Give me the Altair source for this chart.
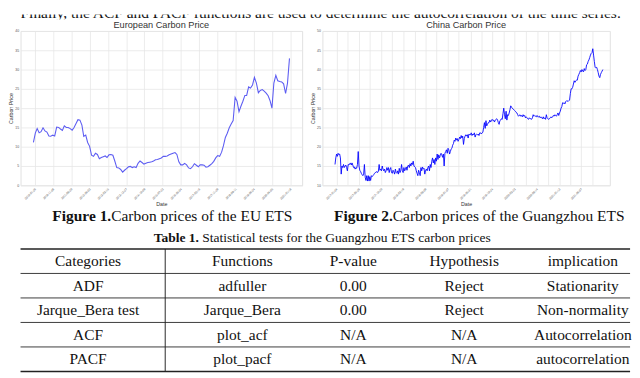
import json
import altair as alt
import pandas as pd

# ---------------- data ----------------
top_text = "Finally, the ACF and PACF functions are used to determine the autocorrelation of the time series."

eu_title = "European Carbon Price"
eu_start = "2010-01-01"
eu_price = [
    11.1, 13.6, 14.7, 13.6, 13.9, 14.9, 14.1, 13.8, 12.8, 12.7,
    13.0, 12.8, 15.1, 15.0, 14.6, 14.2, 15.4, 15.0, 15.0, 14.7,
    14.3, 15.0, 16.0, 17.0, 16.9, 15.6, 12.7, 13.0, 11.1, 10.1,
    7.8, 7.5, 8.3, 8.0, 6.9, 7.2, 7.4, 7.6, 7.2, 7.9,
    8.0, 7.8, 6.3, 4.6, 4.5, 4.1, 3.4, 3.9, 4.3, 4.8,
    4.9, 4.6, 4.8, 4.6, 5.7, 6.3, 5.9, 5.5, 5.7, 5.9,
    6.0, 6.1, 6.3, 6.6, 6.7, 6.9, 7.1, 7.5, 7.5, 7.6,
    7.9, 8.1, 8.3, 8.5, 8.0, 6.1, 5.3, 5.3, 5.7, 5.3,
    4.5, 4.3, 4.8, 5.6, 5.2, 4.8, 5.3, 5.3, 5.2, 4.7,
    4.8, 5.2, 5.6, 6.2, 7.1, 7.7, 7.5, 8.6, 10.2, 12.4,
    13.5, 14.9, 15.9, 16.8, 22.8, 21.8, 19.1, 20.5, 21.8, 23.3,
    23.3, 25.5, 25.2, 26.0, 28.0, 26.5, 24.0, 24.6, 24.8, 24.4,
    23.9, 23.2, 22.0, 20.0, 26.5, 28.5, 27.1, 26.9, 26.8, 26.3,
    23.8, 26.5, 32.9,
]
eu_tick_dates = [
    "2010-01-26", "2010-11-08", "2011-08-20", "2012-06-02", "2013-03-15",
    "2013-12-27", "2014-10-09", "2015-07-22", "2016-05-04", "2017-02-16",
    "2017-11-29", "2018-09-11", "2019-06-24", "2020-04-05", "2021-01-18",
]
eu_domain = ["2009-06-13", "2021-07-19"]

cn_title = "China Carbon Price"
cn_price = [
    15.4, 17.1, 18.1, 17.5, 18.3, 17.9, 18.1, 17.1, 12.9, 15.0,
    14.6, 15.4, 14.6, 15.0, 15.25, 14.6, 13.75, 15.4, 15.25, 15.6,
    15.8, 15.25, 15.8, 15.25, 14.6, 14.75, 14.2, 14.6, 14.4, 15.4,
    18.75, 15.0, 13.9, 13.6, 13.1, 12.75, 12.5, 12.9, 15.4, 12.1,
    11.25, 12.5, 11.1, 12.5, 11.1, 12.25, 11.25, 12.5, 12.25, 12.5,
    12.75, 13.1, 13.3, 13.3, 13.6, 13.3, 13.6, 15.4, 13.9, 14.2,
    13.75, 15.0, 14.2, 13.75, 14.2, 13.3, 13.75, 14.6, 13.9, 14.6,
    13.3, 14.2, 14.6, 13.3, 13.1, 13.9, 13.5, 12.9, 14.2, 13.3,
    13.1, 13.75, 12.9, 14.4, 13.3, 13.9, 15.4, 13.75, 13.3, 14.6,
    13.75, 14.2, 14.75, 13.9, 15.0, 15.25, 14.6, 15.6, 15.0, 15.8,
    15.4, 16.25, 15.0, 14.75, 14.6, 13.75, 13.1, 12.5, 13.9, 13.3,
    12.5, 14.6, 13.75, 14.75, 14.2, 14.4, 12.9, 13.9, 14.2, 13.75,
    14.6, 15.0, 13.75, 15.4, 14.6, 16.25, 17.1, 15.8, 16.7, 15.4,
    17.1, 16.25, 18.1, 16.7, 17.9, 17.1, 17.75, 18.3, 17.9, 17.25,
    18.1, 15.0, 18.3, 18.75, 19.2, 18.3, 19.6, 19.2, 18.1, 18.75,
    19.4, 19.6, 20.4, 20.8, 21.7, 21.4, 22.25, 21.7, 22.1, 21.4,
    21.9, 22.5, 22.1, 22.9, 22.25, 22.75, 20.6, 22.1, 22.75, 23.1,
    22.75, 23.1, 22.25, 23.3, 23.1, 23.1, 23.6, 22.9, 23.3, 23.1,
    23.6, 22.5, 23.1, 23.3, 23.1, 23.3, 22.9, 23.6, 23.6, 23.3,
    23.6, 23.75, 25.0, 26.25, 24.75, 26.75, 25.4, 25.8, 26.25, 26.25,
    26.9, 26.4, 26.75, 27.1, 26.75, 26.9, 26.4, 26.9, 27.1, 27.25,
    26.9, 26.25, 25.8, 26.75, 26.9, 27.25, 27.1, 28.6, 30.0, 28.3,
    27.25, 29.2, 26.9, 28.3, 28.1, 28.75, 29.6, 30.6, 30.25, 30.0,
    29.75, 29.6, 29.4, 29.2, 28.9, 28.75, 28.3, 27.9, 28.1, 28.3,
    27.9, 28.1, 27.75, 28.3, 27.9, 28.1, 27.5, 27.75, 27.5, 27.25,
    27.1, 27.5, 27.25, 27.25, 27.1, 27.5, 28.3, 27.9, 28.1, 27.9,
    27.75, 28.1, 27.75, 27.75, 27.9, 27.5, 27.75, 27.5, 27.25, 27.75,
    27.25, 27.5, 27.1, 28.3, 27.5, 27.25, 27.1, 27.25, 27.5, 27.75,
    27.5, 27.75, 28.1, 27.9, 28.3, 28.1, 27.9, 28.3, 28.75, 28.1,
    28.75, 29.2, 30.0, 30.4, 31.4, 31.25, 31.4, 31.1, 31.7, 31.9,
    31.9, 31.7, 31.9, 32.1, 33.75, 35.0, 35.0, 35.4, 36.25, 37.1,
    36.7, 37.1, 37.25, 37.25, 38.3, 38.75, 39.2, 39.75, 39.4, 40.0,
    39.6, 39.4, 40.25, 39.75, 40.0, 41.25, 41.4, 42.1, 42.5, 43.1,
    43.75, 44.2, 44.4, 45.4, 43.75, 42.1, 40.6, 40.4, 40.6, 40.0,
    39.2, 38.3, 37.9, 38.75, 39.2, 39.6, 40.0,
]
cn_tick_labels = [
    "2017-01-04", "2017-03-16", "2017-05-26", "2017-08-07", "2017-10-20",
    "2018-01-04", "2018-03-19", "2018-05-29", "2018-08-09", "2018-10-24",
    "2019-01-07", "2019-03-20", "2019-05-31", "2019-08-13", "2019-10-24",
    "2020-01-08", "2020-03-23", "2020-06-03", "2020-08-14", "2020-10-29",
    "2021-01-12", "2021-03-24", "2021-06-07", "2021-08-17",
]

caption_bold = ["Figure 1.", "Figure 2."]
caption_rest = ["Carbon prices of the EU ETS", "Carbon prices of the Guangzhou ETS"]
table_title_bold = "Table 1."
table_title_rest = "Statistical tests for the Guangzhou ETS carbon prices"
table_header = ["Categories", "Functions", "P-value", "Hypothesis", "implication"]
table_rows = [
    ["ADF", "adfuller", "0.00", "Reject", "Stationarity"],
    ["Jarque_Bera test", "Jarque_Bera", "0.00", "Reject", "Non-normality"],
    ["ACF", "plot_acf", "N/A", "N/A", "Autocorrelation"],
    ["PACF", "plot_pacf", "N/A", "N/A", "autocorrelation"],
]

# ---------------- layout / style ----------------
SANS = "Liberation Sans"
SERIF = "Liberation Serif"
TOTAL_W = 632
col_centers = [70, 230, 345, 460, 583]
divider_x = 150


def dt(s):
    y, m, d = (int(v) for v in s.split("-"))
    return alt.DateTime(year=y, month=m, date=d)


axis_style = dict(
    labelFont=SANS, labelColor="#555555",
    titleFont=SANS, titleFontSize=5.5, titleColor="#333333", titleFontWeight="normal",
    gridColor="#e6e6e6", gridWidth=0.8, domain=False, ticks=False,
    titlePadding=1.5,
)
x_axis_style = dict(labelFontSize=3, labelAngle=315, labelAlign="right",
                    labelBaseline="middle", labelPadding=3, **axis_style)
y_axis_style = dict(labelFontSize=3.6, labelPadding=2, **axis_style)
frame = alt.ViewBackground(stroke="#e0e0e0", strokeWidth=1, strokeOpacity=1)


def title(t):
    return alt.TitleParams(t, font=SANS, fontSize=9.5, fontWeight="normal",
                           color="#333333", offset=0, anchor="middle")


# strip of cut-off text at the very top (only its lower part is visible)
strip = alt.Chart(pd.DataFrame({"t": [top_text]})).mark_text(
    align="left", baseline="alphabetic", font=SERIF, fontSize=16, color="#111111", clip=True
).encode(x=alt.value(0), y=alt.value(3.5), text="t:N").properties(
    width=TOTAL_W, height=5, view=alt.ViewBackground(strokeOpacity=0)
)

# EU chart
eu_df = pd.DataFrame({
    "date": pd.date_range(eu_start, periods=len(eu_price), freq="MS"),
    "price": eu_price,
})
eu_chart = alt.Chart(eu_df).mark_line(color="#5c5cf2", strokeWidth=1.1).encode(
    x=alt.X("date:T", title="Date",
            scale=alt.Scale(domain=[dt(eu_domain[0]), dt(eu_domain[1])]),
            axis=alt.Axis(values=[dt(s) for s in eu_tick_dates], format="%Y-%m-%d",
                          **x_axis_style)),
    y=alt.Y("price:Q", title="Carbon Price",
            scale=alt.Scale(domain=[0, 40], nice=False),
            axis=alt.Axis(values=list(range(0, 41, 5)), **y_axis_style)),
).properties(width=292, height=160, title=title(eu_title), view=frame)

# China chart
cn_n = len(cn_price)
span = cn_n - 1
cn_df = pd.DataFrame({"i": list(range(cn_n)), "price": cn_price})
cn_ticks = [round(span * (0.006 + 0.04154 * k)) for k in range(len(cn_tick_labels))]
label_expr = f"{json.dumps(cn_tick_labels)}[indexof({json.dumps(cn_ticks)}, datum.value)]"
cn_chart = alt.Chart(cn_df).mark_line(color="#0000ff", strokeWidth=0.9).encode(
    x=alt.X("i:Q", title="Date",
            scale=alt.Scale(domain=[-0.047 * span, span * 1.026], nice=False, zero=False),
            axis=alt.Axis(values=cn_ticks, labelExpr=label_expr, **x_axis_style)),
    y=alt.Y("price:Q", title="Carbon Price",
            scale=alt.Scale(domain=[10, 50], nice=False, zero=False),
            axis=alt.Axis(values=list(range(10, 51, 5)), **y_axis_style)),
).properties(width=298, height=160, title=title(cn_title), view=frame)

top_row = alt.hconcat(eu_chart, cn_chart, spacing=7)

# captions + table
cells = []
for r, row in enumerate([table_header] + table_rows):
    for c, val in enumerate(row):
        cells.append({"row": r + 0.5, "col": c, "text": val})
cell_df = pd.DataFrame(cells)
line_df = pd.DataFrame({"row": [0, 1, 2, 3, 4, 5], "w": [1.6, 0.9, 0.9, 0.9, 0.9, 1.6]})

T0 = 43
yscale = alt.Scale(domain=[0, 5], range=[T0, T0 + 127], nice=False, zero=False)
BOTTOM_H = T0 + 128

layers = []
for c, cx in enumerate(col_centers):
    layers.append(
        alt.Chart(cell_df).transform_filter(alt.datum.col == c).mark_text(
            font=SERIF, fontSize=16, color="#111111", baseline="middle", align="center"
        ).encode(x=alt.value(cx), y=alt.Y("row:Q", scale=yscale, axis=None), text="text:N")
    )
layers.append(
    alt.Chart(line_df).mark_rule(color="#222222").encode(
        x=alt.value(0), x2=alt.value(TOTAL_W),
        y=alt.Y("row:Q", scale=yscale, axis=None),
        strokeWidth=alt.StrokeWidth("w:Q", scale=None),
    )
)
layers.append(
    alt.Chart(pd.DataFrame({"a": [0]})).mark_rule(color="#222222", strokeWidth=1).encode(
        x=alt.value(divider_x), y=alt.datum(0, scale=yscale), y2=alt.datum(5)
    )
)
cap_split = [94, 386]
for k in range(2):
    layers.append(alt.Chart(pd.DataFrame({"t": [caption_bold[k]]})).mark_text(
        font=SERIF, fontSize=16, fontWeight="bold", align="right", baseline="alphabetic", color="#111111"
    ).encode(x=alt.value(cap_split[k]), y=alt.value(14), text="t:N"))
    layers.append(alt.Chart(pd.DataFrame({"t": [caption_rest[k]]})).mark_text(
        font=SERIF, fontSize=16, align="left", baseline="alphabetic", color="#111111"
    ).encode(x=alt.value(cap_split[k]), y=alt.value(14), text="t:N"))
layers.append(alt.Chart(pd.DataFrame({"t": [table_title_bold]})).mark_text(
    font=SERIF, fontSize=14, fontWeight="bold", align="right", baseline="alphabetic", color="#111111"
).encode(x=alt.value(185), y=alt.value(36), text="t:N"))
layers.append(alt.Chart(pd.DataFrame({"t": [table_title_rest]})).mark_text(
    font=SERIF, fontSize=14, align="left", baseline="alphabetic", color="#111111", dx=3.5
).encode(x=alt.value(185), y=alt.value(36), text="t:N"))

bottom = alt.layer(*layers).properties(
    width=TOTAL_W, height=BOTTOM_H, view=alt.ViewBackground(strokeOpacity=0)
)

chart = alt.vconcat(strip, top_row, bottom, spacing=0).properties(
    padding=0, background="white"
).configure_view(strokeOpacity=0)

chart.save("out.html", embed_options={"renderer": "svg", "actions": False})
